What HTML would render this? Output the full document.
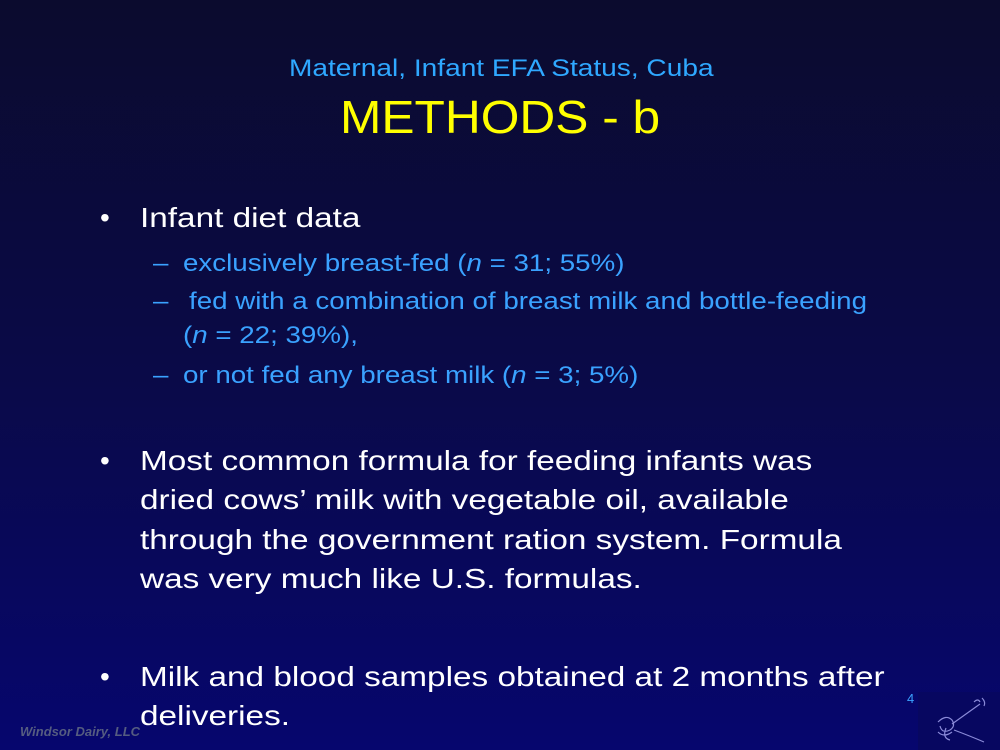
<!DOCTYPE html>
<html><head><meta charset="utf-8"><style>
body{margin:0}
#slide{position:relative;width:1000px;height:750px;overflow:hidden;background:linear-gradient(#0b0b2e 0%,#0a0a48 50%,#06066e 100%);font-family:"Liberation Sans",Arial,Helvetica,sans-serif}
.t{position:absolute;white-space:nowrap;line-height:1;transform-origin:0 0}
.w{color:#fff;font-size:28px;transform:scaleX(1.19)}
.s{color:#3aa2ff;font-size:24px;transform:scaleX(1.155)}
.b{color:#fff;font-size:28px}
</style></head><body>
<div id="slide">
<div class="t" style="left:289px;top:57px;font-size:24px;color:#2fa8ff;transform:scaleX(1.17)">Maternal, Infant EFA Status, Cuba</div>
<div class="t" style="left:340px;top:94px;font-size:46px;color:#ffff00;transform:scaleX(1.08)">METHODS - b</div>

<div class="t b" style="left:100px;top:204px">•</div>
<div class="t w" style="left:140px;top:204px">Infant diet data</div>
<div class="t s" style="left:153px;top:252px">–</div>
<div class="t s" style="left:183px;top:252px">exclusively breast-fed (<i>n</i> = 31; 55%)</div>
<div class="t s" style="left:153px;top:290px">–</div>
<div class="t s" style="left:189px;top:290px">fed with a combination of breast milk and bottle-feeding</div>
<div class="t s" style="left:183px;top:324px">(<i>n</i> = 22; 39%),</div>
<div class="t s" style="left:153px;top:364px">–</div>
<div class="t s" style="left:183px;top:364px">or not fed any breast milk (<i>n</i> = 3; 5%)</div>

<div class="t b" style="left:100px;top:447px">•</div>
<div class="t w" style="left:140px;line-height:39.3px;top:441px">Most common formula for feeding infants was<br>dried cows’ milk with vegetable oil, available<br>through the government ration system. Formula<br>was very much like U.S. formulas.</div>

<div class="t b" style="left:100px;top:663px">•</div>
<div class="t w" style="left:140px;top:657px;line-height:39.3px">Milk and blood samples obtained at 2 months after<br>deliveries.</div>

<div class="t" style="left:20px;top:725px;font-size:13px;font-weight:bold;font-style:italic;color:#555c80">Windsor Dairy, LLC</div>
<div class="t" style="left:907px;top:692px;font-size:13px;color:#3aa2ff">4</div>
<svg style="position:absolute;left:918px;top:692px" width="82" height="58">
<rect width="82" height="58" fill="#070760"/>
<g fill="none" stroke="#8a8ad8" stroke-width="1.2">
<path d="M20 30 q8-8 14-2 q4 6-2 10 q-8 4-10-4 M28 36 q-4 10 4 12 M20 40 q6 6 14 0"/>
<path d="M34 32 L62 12 M36 38 q16 6 30 12 M56 10 q4-4 6 0 M64 6 q4 4 2 8"/>
</g>
</svg>
</div>
</body></html>
